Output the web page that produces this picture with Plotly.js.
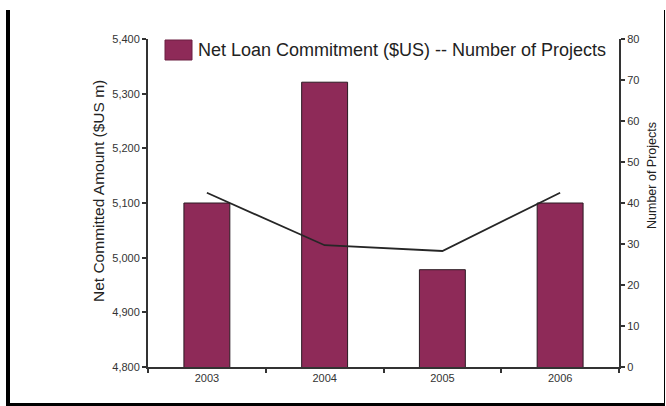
<!DOCTYPE html>
<html>
<head>
<meta charset="utf-8">
<script src="https://cdn.plot.ly/plotly-3.0.1.min.js"></script>
<style>
  html, body { margin: 0; padding: 0; background: #fff; }
  #chart { width: 666px; height: 406px; position: absolute; left: 0; top: 0; }
  #frame { position: absolute; left: 6px; top: 10px; width: 659px; height: 396px;
           box-sizing: border-box; border-left: 4px solid #000; border-right: 1px solid #000;
           border-bottom: 3px solid #000; pointer-events: none; }
</style>
</head>
<body>
<div id="chart"></div>
<div id="frame"></div>
<script>
const years = ['2003', '2004', '2005', '2006'];
const netCommitted = [5100, 5321, 4978, 5100];      // $US m (left axis)
const numProjects = [42.5, 29.7, 28.3, 42.5];       // right axis
const legendLabel = 'Net Loan Commitment ($US) -- Number of Projects';
const leftTitle = 'Net Committed Amount ($US m)';
const rightTitle = 'Number of Projects';

const barColor = '#8e2a58';
const axisColor = '#333333';
const tickFont = { family: 'Arial, "Liberation Sans", sans-serif', size: 11, color: '#333' };

const traces = [
  {
    type: 'bar', x: years, y: netCommitted, yaxis: 'y', width: 0.39,
    marker: { color: barColor, line: { color: '#2a1a22', width: 1 } },
    showlegend: false, name: legendLabel
  },
  {
    type: 'scatter', mode: 'lines', x: years, y: numProjects, yaxis: 'y2',
    line: { color: '#262626', width: 1.8 }, showlegend: false, name: rightTitle
  }
];

const plotTop = 39, plotBottom = 367, plotLeft = 148, plotRight = 619;
const H = plotBottom - plotTop, W = plotRight - plotLeft;
const px = (x) => (x - plotLeft) / W;
const py = (y) => (plotBottom - y) / H;

const layout = {
  width: 666, height: 406,
  margin: { l: plotLeft, r: 666 - plotRight, t: plotTop, b: 406 - plotBottom, pad: 0 },
  paper_bgcolor: '#fff', plot_bgcolor: '#fff',
  showlegend: false,
  xaxis: {
    type: 'category', categoryorder: 'array', categoryarray: years,
    range: [-0.5, 3.5], showgrid: false, zeroline: false,
    showline: true, linecolor: axisColor, linewidth: 2,
    ticks: 'outside', tickson: 'boundaries', ticklen: 4, tickwidth: 2, tickcolor: axisColor,
    tickfont: tickFont, fixedrange: true
  },
  yaxis: {
    range: [4800, 5400], dtick: 100, tick0: 4800, tickformat: ',d',
    showgrid: false, zeroline: false,
    showline: true, linecolor: axisColor, linewidth: 2,
    ticks: 'outside', ticklen: 4, tickwidth: 2, tickcolor: axisColor,
    tickfont: tickFont, fixedrange: true
  },
  yaxis2: {
    overlaying: 'y', side: 'right', range: [0, 80], dtick: 10, tick0: 0,
    showgrid: false, zeroline: false,
    showline: true, linecolor: axisColor, linewidth: 2,
    ticks: 'outside', ticklen: 4, tickwidth: 2, tickcolor: axisColor,
    tickfont: tickFont, fixedrange: true
  },
  shapes: [
    { type: 'rect', xref: 'paper', yref: 'paper',
      x0: px(165), x1: px(192), y0: py(60), y1: py(40),
      fillcolor: barColor, line: { color: '#6a1f40', width: 1 } }
  ],
  annotations: [
    { xref: 'paper', yref: 'paper', x: px(196), y: py(50), xanchor: 'left', yanchor: 'middle',
      text: legendLabel, showarrow: false,
      font: { family: 'Arial, "Liberation Sans", sans-serif', size: 18, color: '#222' } },
    { xref: 'paper', yref: 'paper', x: px(98), y: py(191), xanchor: 'center', yanchor: 'middle',
      text: leftTitle, textangle: -90, showarrow: false,
      font: { family: 'Arial, "Liberation Sans", sans-serif', size: 15.5, color: '#222' } },
    { xref: 'paper', yref: 'paper', x: px(652), y: py(176), xanchor: 'center', yanchor: 'middle',
      text: rightTitle, textangle: -90, showarrow: false,
      font: { family: 'Arial, "Liberation Sans", sans-serif', size: 12.5, color: '#222' } }
  ]
};

Plotly.newPlot('chart', traces, layout, { displayModeBar: false, staticPlot: true });
</script>
</body>
</html>
